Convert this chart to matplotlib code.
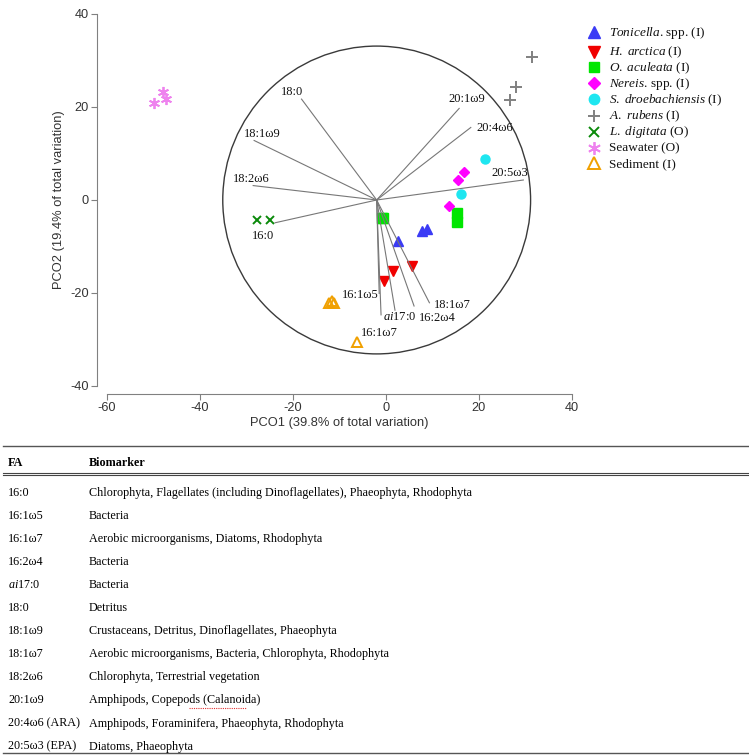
import matplotlib
matplotlib.use("Agg")
import matplotlib.pyplot as plt
from matplotlib.patches import Circle
from matplotlib.lines import Line2D

plt.rcParams['mathtext.fontset'] = 'custom'
plt.rcParams['mathtext.rm'] = 'Liberation Serif'
plt.rcParams['mathtext.it'] = 'Liberation Serif:italic'
plt.rcParams['mathtext.bf'] = 'Liberation Serif:bold'
plt.rcParams['axes.unicode_minus'] = False

# --- PCO scores per group (x = PCO1, y = PCO2) ---
tonicella_x = [2.6, 7.7, 8.8]
tonicella_y = [-8.8, -6.7, -6.2]
harctica_x = [-0.3, 1.6, 5.6]
harctica_y = [-17.4, -15.3, -14.2]
oaculeata_x = [-0.9, -0.5, 15.4, 15.4]
oaculeata_y = [-3.8, -3.8, -2.9, -4.7]
nereis_x = [16.8, 15.5, 13.6]
nereis_y = [6.0, 4.3, -1.2]
sdroeb_x = [21.4, 16.3]
sdroeb_y = [8.8, 1.3]
arubens_x = [31.4, 28.0, 26.7]
arubens_y = [30.7, 24.2, 21.5]
ldigitata_x = [-27.7, -24.9]
ldigitata_y = [-4.3, -4.3]
seawater_x = [-49.8, -47.8, -47.3]
seawater_y = [20.8, 23.2, 21.7]
sediment_x = [-12.1, -11.6, -11.1, -6.2]
sediment_y = [-22.1, -21.8, -22.1, -30.5]

# --- fatty acid vectors ---
vec_origin = (-1.94, 0.0)
circle_radius = 33.1
vec_names = ['18:0', '18:1ω9', '18:2ω6', '16:0', '20:1ω9', '20:4ω6', '20:5ω3',
             '16:1ω5', '16:1ω7', r'$\mathit{ai}$17:0', '16:2ω4', '18:1ω7']
vec_x = [-18.1, -28.3, -28.5, -23.8, 15.8, 18.3, 29.6, -1.4, -1.0, 2.0, 6.1, 9.4]
vec_y = [21.7, 12.8, 3.1, -4.9, 19.7, 15.6, 4.3, -20.1, -24.7, -23.7, -22.8, -22.1]
# label offsets in pixels (layout only)
vec_label_off = [(-9, 7), (8, 6), (-2, 7), (-12, -13), (8, 9), (24, -1), (-14, 7),
                 (-19, -2), (-2, -18), (5, -7), (23, -12), (23, -2)]

# --- biomarker table ---
fa_names = ['16:0', '16:1ω5', '16:1ω7', '16:2ω4', r'$\mathit{ai}$17:0', '18:0',
            '18:1ω9', '18:1ω7', '18:2ω6', '20:1ω9', '20:4ω6 (ARA)', '20:5ω3 (EPA)']
biomarkers = [
    'Chlorophyta, Flagellates (including Dinoflagellates), Phaeophyta, Rhodophyta',
    'Bacteria',
    'Aerobic microorganisms, Diatoms, Rhodophyta',
    'Bacteria',
    'Bacteria',
    'Detritus',
    'Crustaceans, Detritus, Dinoflagellates, Phaeophyta',
    'Aerobic microorganisms, Bacteria, Chlorophyta, Rhodophyta',
    'Chlorophyta, Terrestrial vegetation',
    'Amphipods, Copepods (Calanoida)',
    'Amphipods, Foraminifera, Phaeophyta, Rhodophyta',
    'Diatoms, Phaeophyta',
]

W, H = 749, 756
fig = plt.figure(figsize=(W / 100, H / 100), dpi=100)


def fx(px):
    return px / W


def fy(py):
    return 1 - py / H


ax = fig.add_axes([fx(97.4), fy(393.9), fx(581) - fx(97.4), fy(9.35) - fy(393.9)])
ax.set_xlim(-62, 42)
ax.set_ylim(-41.7, 41)

# vectors and circle
ax.add_patch(Circle(vec_origin, circle_radius, fill=False, ec='#3a3a3a', lw=1.0, zorder=2))
for name, x, y, off in zip(vec_names, vec_x, vec_y, vec_label_off):
    ax.plot([vec_origin[0], x], [vec_origin[1], y], color='#777777', lw=0.8, zorder=4)
    ax.annotate(name, (x, y), xytext=off, textcoords='offset pixels',
                ha='center', va='center', fontsize=9, family='Liberation Serif',
                color='#111111', zorder=5)

groups = [
    (tonicella_x, tonicella_y, r'$\mathit{Tonicella}$. spp. (I)',
     dict(marker='^', color='#3b3bf5', ms=7.5)),
    (harctica_x, harctica_y, r'$\mathit{H.\ arctica}$ (I)',
     dict(marker='v', color='#f00000', ms=7.5)),
    (oaculeata_x, oaculeata_y, r'$\mathit{O.\ aculeata}$ (I)',
     dict(marker='s', color='#00e600', ms=6.5)),
    (nereis_x, nereis_y, r'$\mathit{Nereis}$. spp. (I)',
     dict(marker='D', color='#ff00ff', ms=5.5)),
    (sdroeb_x, sdroeb_y, r'$\mathit{S.\ droebachiensis}$ (I)',
     dict(marker='o', color='#1ee6f0', ms=6.5)),
    (arubens_x, arubens_y, r'$\mathit{A.\ rubens}$ (I)',
     dict(marker='+', color='#808080', ms=8, mew=1.4)),
    (ldigitata_x, ldigitata_y, r'$\mathit{L.\ digitata}$ (O)',
     dict(marker='x', color='#0a8a0a', ms=6, mew=1.4)),
    (seawater_x, seawater_y, 'Seawater (O)',
     dict(marker=(6, 2, 0), color='#ee82ee', ms=8, mew=1.3)),
    (sediment_x, sediment_y, 'Sediment (I)',
     dict(marker='^', color='#f0a000', ms=7, mfc='none', mew=1.4)),
]
for gx, gy, label, style in groups:
    ax.plot(gx, gy, ls='none', zorder=3, clip_on=False, **style)

# legend drawn row by row so that plain and italic rows keep the same pitch
legend_rows_y = [32.3, 51.7, 67, 83, 99, 115.7, 131.7, 147.7, 163.3]
for (gx, gy, label, style), ry in zip(groups, legend_rows_y):
    lstyle = dict(style)
    lstyle['ms'] = style['ms'] * 1.15
    fig.add_artist(Line2D([fx(594)], [fy(ry)], transform=fig.transFigure, ls='none', **lstyle))
    fig.text(fx(609), fy(ry + 3.8), label, fontsize=9.5, family='Liberation Serif',
             va='baseline', ha='left', color='#111111')

# axes styling
for side in ['top', 'right']:
    ax.spines[side].set_visible(False)
for side in ['left', 'bottom']:
    ax.spines[side].set_color('#808080')
    ax.spines[side].set_linewidth(0.8)
ax.spines['left'].set_bounds(-40, 40)
ax.spines['bottom'].set_bounds(-60, 40)
ax.set_xticks([-60, -40, -20, 0, 20, 40])
ax.set_yticks([-40, -20, 0, 20, 40])
ax.tick_params(direction='out', length=4, width=0.8, color='#808080',
               labelsize=9.2, labelcolor='#333333', pad=2)
for lab in ax.get_xticklabels() + ax.get_yticklabels():
    lab.set_family('Liberation Sans')
ax.set_xlabel('PCO1 (39.8% of total variation)', fontsize=9.3,
              family='Liberation Sans', color='#333333')
ax.set_ylabel('PCO2 (19.4% of total variation)', fontsize=9.3,
              family='Liberation Sans', color='#333333')
ax.xaxis.set_label_coords(0.5, -0.06)
ax.yaxis.set_label_coords(-0.068, 0.504)

# table
def hline(py, lw, x0=3, x1=749, color='#555555'):
    fig.add_artist(Line2D([fx(x0), fx(x1)], [fy(py), fy(py)], transform=fig.transFigure,
                          color=color, lw=lw))


hline(446, 1.0)
hline(472.6, 0.8, color='#444444')
hline(474.6, 0.8, color='#444444')
hline(753, 1.0)

tfs = 8.7
fig.text(fx(8), fy(466.5), 'FA', fontsize=tfs, weight='bold', family='Liberation Serif',
         va='baseline', ha='left')
fig.text(fx(89), fy(466.5), 'Biomarker', fontsize=tfs, weight='bold',
         family='Liberation Serif', va='baseline', ha='left')
for i, (fa, bm) in enumerate(zip(fa_names, biomarkers)):
    yy = 491.5 + i * 23.1 + 4.0
    fig.text(fx(8), fy(yy), fa, fontsize=tfs, family='Liberation Serif', va='baseline', ha='left')
    fig.text(fx(89), fy(yy), bm, fontsize=tfs, family='Liberation Serif', va='baseline', ha='left')

# spell-check squiggle under "Calanoida" as in the source image
fig.add_artist(Line2D([fx(189), fx(246)], [fy(707.5), fy(707.5)], transform=fig.transFigure,
                      color='#e03030', lw=0.8, ls=(0, (1, 1))))

fig.savefig('out.png', dpi=100)
